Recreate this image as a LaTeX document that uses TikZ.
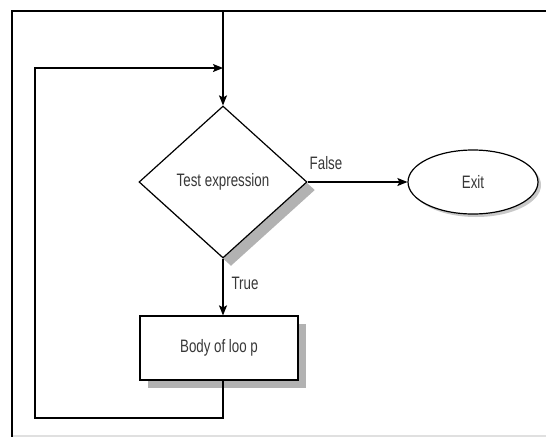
\documentclass[tikz,border=0pt]{standalone}
\usepackage{fontspec}
\newfontfamily\flowfont{Liberation Sans}[FakeStretch=0.74]
\usetikzlibrary{shapes.geometric,shadows,arrows.meta}
\definecolor{shadowgray}{gray}{0.7}
\definecolor{textgray}{gray}{0.22}

\begin{document}
\begin{tikzpicture}[x=1pt,y=-1pt,
   line/.style={line width=1.2pt},
   flow/.style={line width=1.2pt,-{Stealth[length=10pt,width=8pt,inset=2pt]}},
   txt/.style={font=\flowfont\fontsize{18}{20}\selectfont,text=textgray},
   boxshadow/.style={drop shadow={shadow xshift=8pt,shadow yshift=-8pt,fill=shadowgray,opacity=1}},
   ovalshadow/.style={drop shadow={shadow xshift=3pt,shadow yshift=-3pt,fill=shadowgray!70,opacity=1}},
   testbox/.style={diamond,draw,fill=white,line,inner sep=0pt,aspect=1.1,
      minimum width=168pt,minimum height=152pt,txt},
   exitbox/.style={ellipse,draw,fill=white,line,inner sep=0pt,
      minimum width=130pt,minimum height=64pt,txt},
   bodybox/.style={rectangle,draw,fill=white,line,inner sep=0pt,
      minimum width=158pt,minimum height=64pt,txt}]
   \useasboundingbox (0,0) rectangle (546,437);
   % frame
   \draw[black!12,line width=1.2pt] (12,436) -- (546,436);
   \draw[line width=2.4pt] (546,11) -- (12,11) -- (12,437);

   % shapes
   \node[testbox,boxshadow] (test) at (223,182) {Test expression};
   \node[exitbox,ovalshadow] (exit) at (473,182) {Exit};
   \node[bodybox,boxshadow] (body) at (219,348) {Body of loo p};

   \coordinate (entry) at (223,11);
   \coordinate (join) at (223,68);
   \coordinate (corner) at (35,418);

   % connectors
   \draw[flow] (entry) -- (test.north);
   \draw[flow] (test.east) -- (exit.west);
   \draw[flow] (test.south) -- (test.south |- body.north);
   \draw[flow] (body.south -| test.south) |- (corner) |- (join);

   \node[txt] (false) at (326,163) {False};
   \node[txt] (true) at (245,283) {True};
\end{tikzpicture}
\end{document}
